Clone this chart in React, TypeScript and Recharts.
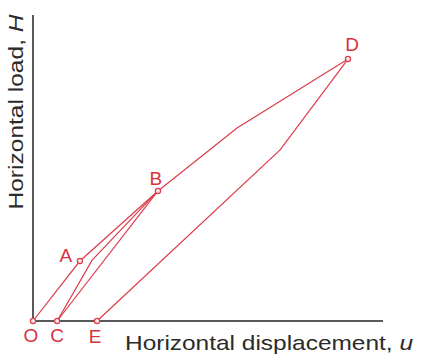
import React from 'react';
import { ComposedChart, Line, Scatter, XAxis, YAxis, Label } from 'recharts';

// load path, in displacement / load units (0-100 both ways)
const loadingOAB = [
    { u: 0, h: 0 },
    { u: 13.4, h: 19.6 },
    { u: 35.7, h: 42.5 },
];
const unloadingBC = [
    { u: 35.7, h: 42.5 },
    { u: 16.9, h: 19.9 },
    { u: 6.9, h: 0 },
];
const reloadingCB = [
    { u: 6.9, h: 0 },
    { u: 35.7, h: 42.5 },
];
const loadingBD = [
    { u: 35.7, h: 42.5 },
    { u: 58.3, h: 63.1 },
    { u: 90, h: 85.6 },
];
const unloadingDE = [
    { u: 90, h: 85.6 },
    { u: 70.6, h: 55.9 },
    { u: 18.3, h: 0 },
];

const keyPoints = [
    { name: 'O', u: 0, h: 0 },
    { name: 'A', u: 13.4, h: 19.6 },
    { name: 'B', u: 35.7, h: 42.5 },
    { name: 'C', u: 6.9, h: 0 },
    { name: 'D', u: 90, h: 85.6 },
    { name: 'E', u: 18.3, h: 0 },
];

const RED = '#dc3c4a';
const FONT = '"Liberation Sans", Arial, sans-serif';

// where each letter sits relative to its marker
const letterOffset: Record<string, [number, number]> = {
    O: [-2, 21],
    A: [-14, 1],
    B: [-2, -6],
    C: [0, 21],
    D: [4, -8],
    E: [-2, 22],
};

const PointMarker = (props: any) => {
    const { cx, cy, payload } = props;
    const [dx, dy] = letterOffset[payload.name] || [0, 0];
    return (
        <g>
            <circle cx={cx} cy={cy} r={2.6} fill="#fbe3e5" stroke={RED} strokeWidth={1.2} />
            <text
                x={cx + dx}
                y={cy + dy}
                textAnchor="middle"
                fontFamily={FONT}
                fontSize={19}
                fill="#d8323c"
            >
                {payload.name}
            </text>
        </g>
    );
};

const YTitle = () => (
    <text
        x={23}
        y={112}
        transform="rotate(-90, 23, 112)"
        textAnchor="middle"
        fontFamily={FONT}
        fontSize={21}
        fill="#2b2b2b"
        textLength={195}
        lengthAdjust="spacingAndGlyphs"
    >
        Horizontal load, <tspan fontStyle="italic">H</tspan>
    </text>
);

const XTitle = () => (
    <text
        x={125}
        y={350}
        fontFamily={FONT}
        fontSize={21}
        fill="#2b2b2b"
        textLength={288}
        lengthAdjust="spacingAndGlyphs"
    >
        Horizontal displacement, <tspan fontStyle="italic">u</tspan>
    </text>
);

const App = () => {
    const lineProps = {
        dataKey: 'h',
        type: 'linear' as const,
        stroke: RED,
        strokeWidth: 1.2,
        dot: false,
        activeDot: false,
        isAnimationActive: false,
    };

    return (
        <div style={{ position: 'fixed', left: 0, top: 0, background: '#fff' }}>
            <ComposedChart
                width={425}
                height={360}
                margin={{ top: 15, right: 42, bottom: 9, left: 13 }}
            >
                <XAxis
                    dataKey="u"
                    type="number"
                    domain={[0, 100]}
                    tick={false}
                    tickLine={false}
                    height={30}
                    axisLine={{ stroke: '#222', strokeWidth: 1.5 }}
                >
                    <Label content={<XTitle />} />
                </XAxis>
                <YAxis
                    dataKey="h"
                    type="number"
                    domain={[0, 100]}
                    tick={false}
                    tickLine={false}
                    width={20}
                    axisLine={{ stroke: '#222', strokeWidth: 1.5 }}
                >
                    <Label content={<YTitle />} />
                </YAxis>
                <Line {...lineProps} data={loadingOAB} />
                <Line {...lineProps} data={unloadingBC} />
                <Line {...lineProps} data={reloadingCB} />
                <Line {...lineProps} data={loadingBD} />
                <Line {...lineProps} data={unloadingDE} />
                <Scatter data={keyPoints} dataKey="h" shape={PointMarker} isAnimationActive={false} />
            </ComposedChart>
        </div>
    );
};

export default App;
